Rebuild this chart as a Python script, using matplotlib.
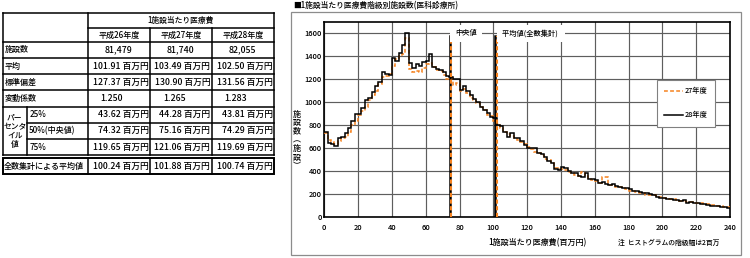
import numpy as np
import matplotlib as mpl
mpl.use('Agg')
from matplotlib import pyplot as plt
from matplotlib.patches import Rectangle

plt.rcParams['font.family'] = ['Noto Sans CJK JP', 'DejaVu Sans']
plt.rcParams['font.weight'] = 'medium'

# ---- table data ----
tbl_title = '1施設当たり医療費'
years = ['平成26年度', '平成27年度', '平成28年度']
n_fac = ['81,479', '81,740', '82,055']
mean_v = ['101.91', '103.49', '102.50']
std_v = ['127.37', '130.90', '131.56']
cv_v = ['1.250', '1.265', '1.283']
p25 = ['43.62', '44.28', '43.81']
p50 = ['74.32', '75.16', '74.29']
p75 = ['119.65', '121.06', '119.69']
total_mean = ['100.24', '101.88', '100.74']
unit = '百万円'

# ---- histogram data (bin width 2, 0-240) ----
bin_edges = np.arange(0, 242, 2)
cnt27 = [730, 670, 655, 640, 660, 690, 700, 740, 800, 840,
         890, 920, 960, 1020, 1060, 1100, 1160, 1220, 1230, 1250,
         1320, 1380, 1400, 1420, 1560, 1290, 1260, 1270, 1260, 1300,
         1330, 1340, 1310, 1280, 1270, 1240, 1200, 1210, 1150, 1170,
         1100, 1120, 1080, 1040, 1020, 990, 960, 930, 890, 880,
         840, 810, 780, 740, 720, 710, 690, 670, 650, 640,
         610, 590, 570, 560, 540, 510, 500, 470, 430, 420,
         420, 410, 395, 380, 370, 360, 390, 360, 330, 320,
         310, 300, 350, 350, 280, 275, 265, 258, 250, 245,
         230, 230, 222, 212, 205, 195, 195, 190, 180, 175,
         165, 165, 158, 160, 150, 140, 140, 135, 130, 125,
         122, 120, 116, 112, 108, 105, 100, 96, 90, 85]
cnt28 = [740, 645, 640, 615, 690, 700, 730, 780, 840, 900,
         900, 950, 1020, 1035, 1090, 1140, 1180, 1260, 1250, 1240,
         1390, 1360, 1430, 1500, 1600, 1340, 1300, 1330, 1320, 1350,
         1360, 1420, 1310, 1290, 1280, 1260, 1230, 1220, 1200, 1200,
         1110, 1140, 1100, 1060, 1030, 1000, 960, 935, 905, 875,
         860, 800, 790, 745, 700, 730, 690, 685, 660, 630,
         600, 600, 600, 560, 545, 520, 490, 470, 420, 410,
         440, 425, 400, 385, 380, 355, 350, 385, 330, 330,
         320, 300, 305, 290, 280, 285, 270, 265, 255, 250,
         240, 225, 230, 215, 210, 205, 200, 195, 175, 170,
         165, 160, 160, 150, 145, 140, 145, 125, 135, 120,
         118, 112, 110, 105, 100, 98, 95, 90, 85, 78]
median27, median28 = 75.16, 74.29
mean27, mean28 = 101.88, 100.74

orange = '#F5821F'
W, H = 750, 258

fig = plt.figure(figsize=(W / 100, H / 100), dpi=100)

# ---- chart ----
ax = fig.add_axes([324.3 / W, 1 - 217 / H, (730 - 324.3) / W, (217 - 22) / H])
ax.set_xlim(0, 240)
ax.set_ylim(0, 1700)
ax.set_xticks(np.arange(0, 241, 20))
ax.set_yticks(np.arange(0, 1601, 200))
ax.grid(True, color='#5e5e5e', lw=0.85)
ax.set_axisbelow(True)
ax.tick_params(length=0, labelsize=5.4)
ax.tick_params(axis='x', pad=5)
ax.tick_params(axis='y', pad=2)
for s in ax.spines.values():
    s.set_linewidth(1.2)

ax.stairs(cnt27, bin_edges, baseline=None, color=orange, lw=1.1,
          ls=(0, (2.5, 1.5)), label='27年度', zorder=3)
ax.stairs(cnt28, bin_edges, baseline=None, color='black', lw=1.1,
          label='28年度', zorder=4)

top = 1580 / 1700
ax.axvline(median28, ymax=top, color='black', lw=1.8, zorder=5)
ax.axvline(median27, ymax=top, color=orange, lw=1.5, ls=(0, (2, 1.2)), zorder=6)
ax.axvline(mean28, ymax=top, color='black', lw=1.8, zorder=5)
ax.axvline(mean27, ymax=top, color=orange, lw=1.5, ls=(0, (2, 1.2)), zorder=6)

bb = dict(facecolor='white', edgecolor='none', pad=3.5)
ax.text(77.3, 1600, '中央値', fontsize=5.2, va='center', ha='left', bbox=bb, zorder=7)
ax.text(105.3, 1600, '平均値(全数集計) ', fontsize=5.2, va='center', ha='left', bbox=bb, zorder=7)

leg = ax.legend(loc='upper left', bbox_to_anchor=(0.81, 0.72), fontsize=5.2,
                frameon=True, fancybox=False, edgecolor='#808080', framealpha=1,
                handlelength=2.6, handletextpad=0.3, labelspacing=2.2, borderpad=1.0)
leg.get_frame().set_linewidth(0.8)
leg.set_zorder(8)

# ---- overlay in pixel coordinates ----
tb = fig.add_axes([0, 0, 1, 1])
tb.set_xlim(0, W)
tb.set_ylim(H, 0)
tb.axis('off')

tb.add_patch(Rectangle((291, 12), 450, 243, fill=False, ec='#8c8c8c', lw=0.9))
tb.text(293, 6, '■1施設当たり医療費階級別施設数(医科診療所)', fontsize=5.6, va='center', ha='left')
tb.text(297, 140, '施\n設\n数\n︵\n施\n設\n︶', fontsize=5.8, va='center', ha='center', linespacing=0.95)
tb.text(537, 243, '1施設当たり医療費(百万円)', fontsize=5.8, va='center', ha='center')
tb.text(618, 243, '注  ヒストグラムの階級幅は2百万', fontsize=4.9, va='center', ha='left')

# table
xl, xc1, xc2, xc3, xr = 2.7, 87.7, 150, 211.7, 274
xsub = 26.7
yt, yh1, yh2 = 13.3, 28.3, 41.7
rows = [yh2 + 16.2 * i for i in range(8)]
k = dict(color='black', lw=1.1, solid_capstyle='projecting')
tb.plot([xl, xr], [yt, yt], **k)
tb.plot([xc1, xr], [yh1, yh1], **k)
for i, y in enumerate(rows):
    x0 = xsub if i in (5, 6) else xl
    tb.plot([x0, xr], [y, y], **k)
for x in (xl, xc1, xc2, xc3, xr):
    y0 = yh1 if x in (xc2, xc3) else yt
    tb.plot([x, x], [y0, rows[-1]], **k)
tb.plot([xsub, xsub], [rows[4], rows[-1]], **k)

fs = 6.3
tb.text((xc1 + xr) / 2, (yt + yh1) / 2, tbl_title, fontsize=5.6, ha='center', va='center')
cols = [(xc1, xc2), (xc2, xc3), (xc3, xr)]
for (a, b), yr in zip(cols, years):
    tb.text((a + b) / 2, (yh1 + yh2) / 2, yr, fontsize=5.8, ha='center', va='center')

def mid(i):
    return (rows[i] + rows[i + 1]) / 2

labels = ['施設数', '平均', '標準偏差', '変動係数']
for i, lab in enumerate(labels):
    tb.text(5, mid(i), lab, fontsize=5.8, ha='left', va='center')
for i, lab in enumerate(['25%', '50%(中央値)', '75%']):
    tb.text(xsub + 2.5, mid(4 + i), lab, fontsize=5.8, ha='left', va='center')
tb.text((xl + xsub) / 2, (rows[4] + rows[7]) / 2, 'パー\nセンタ\nイル\n値', fontsize=5.6,
        ha='center', va='center', linespacing=1.0)

for j, (a, b) in enumerate(cols):
    tb.text((a + b) / 2, mid(0), n_fac[j], fontsize=fs, ha='center', va='center')
    tb.text(a + 13, mid(3), cv_v[j], fontsize=fs, ha='left', va='center')
    for i, vals in ((1, mean_v), (2, std_v), (4, p25), (5, p50), (6, p75)):
        tb.text(b - 1.5, mid(i), vals[j] + ' ' + unit, fontsize=fs, ha='right', va='center')

# total row
yb0, yb1 = 158.3, 174.3
tb.add_patch(Rectangle((xl, yb0), xr - xl, yb1 - yb0, fill=False, ec='black', lw=1.4))
for x in (xc1, xc2, xc3):
    tb.plot([x, x], [yb0, yb1], **k)
tb.text(4, (yb0 + yb1) / 2, '全数集計による平均値', fontsize=5.8, ha='left', va='center')
for j, (a, b) in enumerate(cols):
    tb.text(b - 1.5, (yb0 + yb1) / 2, total_mean[j] + ' ' + unit, fontsize=fs, ha='right', va='center')

plt.savefig('out.png', dpi=100)
plt.close()
